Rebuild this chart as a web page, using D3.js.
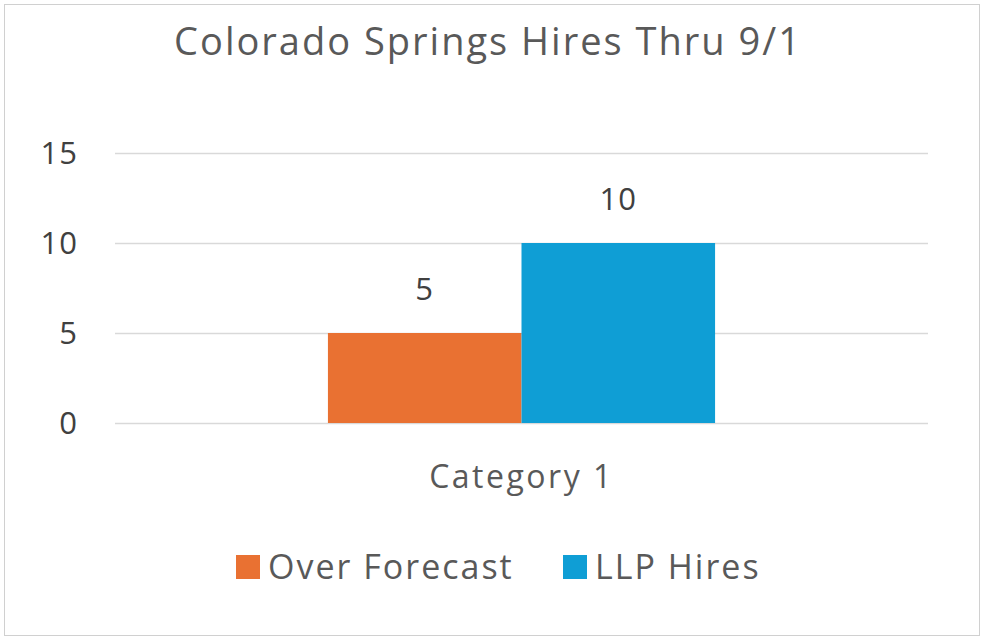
<!DOCTYPE html>
<html>
<head>
<meta charset="utf-8">
<script src="https://cdn.jsdelivr.net/npm/d3@7"></script>
<style>
  body { margin: 0; background: #fff; }
  svg { display: block; font-family: "Open Sans", "Noto Sans", sans-serif; }
</style>
</head>
<body>
<div id="chart"></div>
<script>
const categories = ["Category 1"];
const seriesNames = ["Over Forecast", "LLP Hires"];
const seriesValues = [[5], [10]];
const yTicks = [0, 5, 10, 15];
const colors = ["#E97132", "#0F9ED5"];

const width = 985, height = 641;
const plot = { left: 115, right: 928, top: 153, bottom: 423 };

const svg = d3.select("#chart").append("svg")
    .attr("width", width).attr("height", height);

svg.append("rect")
    .attr("x", 4.5).attr("y", 4.5)
    .attr("width", 975).attr("height", 631)
    .attr("fill", "#fff").attr("stroke", "#d0d0d0");

svg.append("text")
    .attr("x", 488).attr("y", 55)
    .attr("text-anchor", "middle")
    .attr("font-size", 38).attr("letter-spacing", 2).attr("fill", "#595959")
    .text("Colorado Springs Hires Thru 9/1");

const y = d3.scaleLinear().domain([0, 15]).range([plot.bottom, plot.top]);
const x0 = d3.scaleBand().domain(categories).range([plot.left, plot.right]).paddingInner(0).paddingOuter(0.55);
const x1 = d3.scaleBand().domain(seriesNames).range([0, x0.bandwidth()]);

// gridlines
svg.append("g").selectAll("line").data(yTicks).join("line")
    .attr("x1", plot.left).attr("x2", plot.right)
    .attr("y1", d => y(d) + 0.5).attr("y2", d => y(d) + 0.5)
    .attr("stroke", "#d9d9d9").attr("stroke-width", 1.5);

svg.append("g").selectAll("text").data(yTicks).join("text")
    .attr("x", 78).attr("y", d => y(d) + 11)
    .attr("text-anchor", "end")
    .attr("font-size", 31).attr("letter-spacing", 1).attr("fill", "#404040")
    .text(d => d);

// bars
categories.forEach((cat, ci) => {
    seriesNames.forEach((s, si) => {
        const v = seriesValues[si][ci];
        const bx = x0(cat) + x1(s);
        svg.append("rect")
            .attr("x", bx).attr("y", y(v))
            .attr("width", x1.bandwidth()).attr("height", y(0) - y(v))
            .attr("fill", colors[si]);
        svg.append("text")
            .attr("x", bx + x1.bandwidth() / 2).attr("y", y(v) - 33)
            .attr("text-anchor", "middle")
            .attr("font-size", 31).attr("letter-spacing", 1).attr("fill", "#404040")
            .text(v);
    });
    svg.append("text")
        .attr("x", x0(cat) + x0.bandwidth() / 2).attr("y", 488)
        .attr("text-anchor", "middle")
        .attr("font-size", 32).attr("letter-spacing", 2.5).attr("fill", "#595959")
        .text(cat);
});

// legend
const legendX = [236, 563];
seriesNames.forEach((s, i) => {
    svg.append("rect")
        .attr("x", legendX[i]).attr("y", 555)
        .attr("width", 24).attr("height", 24)
        .attr("fill", colors[i]);
    svg.append("text")
        .attr("x", legendX[i] + 32).attr("y", 579)
        .attr("font-size", 34).attr("letter-spacing", 2).attr("fill", "#595959")
        .text(s);
});
</script>
</body>
</html>
